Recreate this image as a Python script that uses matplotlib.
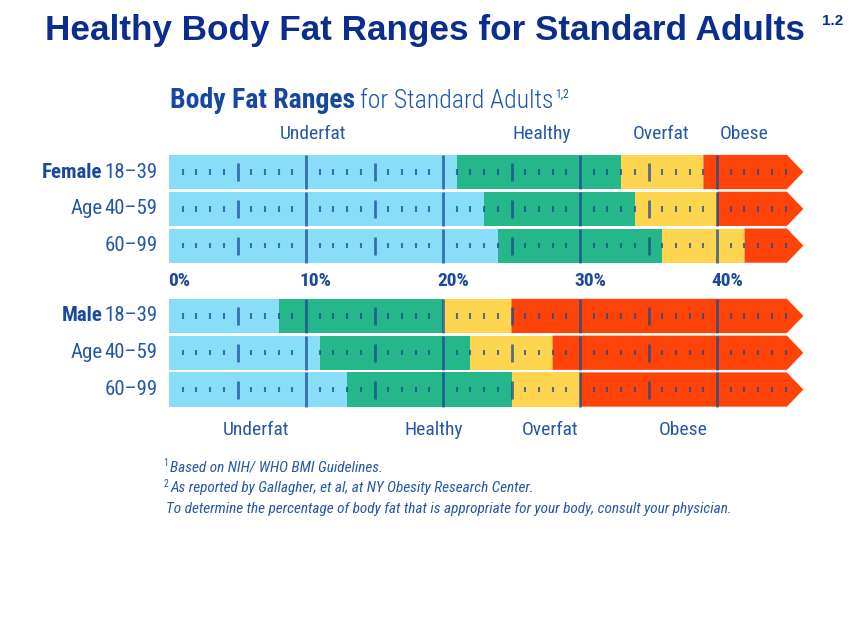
import matplotlib.pyplot as plt
from matplotlib import font_manager

groups = ["Female", "Male"]
ages = ["18–39", "40–59", "60–99"]
categories = ["Underfat", "Healthy", "Overfat", "Obese"]
# % body fat where Healthy, Overfat and Obese begin, one row per age band
female_bounds = [[21, 33, 39], [23, 34, 40], [24, 36, 42]]
male_bounds = [[8, 20, 25], [11, 22, 28], [13, 25, 30]]
scale_end = 45
pct_labels = [0, 10, 20, 30, 40]
footnotes = [
    ("1", "Based on NIH/ WHO BMI Guidelines."),
    ("2", "As reported by Gallagher, et al, at NY Obesity Research Center."),
    ("", "To determine the percentage of body fat that is appropriate for your body, consult your physician."),
]

seg_colors = ["#88ddf9", "#25b689", "#fed54f", "#fe4309"]
navy = "#0b2e8e"
blue = "#2458a8"
dark_blue = "#1b4a9c"

names = {f.name for f in font_manager.fontManager.ttflist}
narrow = "Liberation Sans"
for cand in ["Roboto Condensed", "Barlow Semi Condensed", "Asap Condensed"]:
    if cand in names:
        narrow = cand
        break

W, H = 865, 619
fig = plt.figure(figsize=(W / 100, H / 100), dpi=100)
fig.patch.set_facecolor("white")


def fx(x):
    return x / W


def fy(y):
    return 1 - y / H


# title
fig.text(fx(45), fy(40), "Healthy Body Fat Ranges for Standard Adults", family="Liberation Sans",
         weight="bold", size=25.3, color=navy, va="baseline")
fig.text(fx(822), fy(14), "1.2", family="Liberation Sans", weight="bold", size=11,
         color=navy, va="top")

# subtitle, pieces chained one after another
renderer = fig.canvas.get_renderer()
t1 = fig.text(fx(170), fy(108), "Body Fat Ranges", family=narrow, weight="bold", size=20,
              color="#1747a0", va="baseline")
x_end = t1.get_window_extent(renderer).x1
t2 = fig.text(x_end / W + fx(5), fy(108), "for Standard Adults", family=narrow, weight="light",
              size=18.5, color="#1d57b0", va="baseline")
x_end = t2.get_window_extent(renderer).x1
fig.text(x_end / W + fx(2), fy(88), "1,2", family=narrow, size=8.5, color="#1d57b0", va="top")

ax = fig.add_axes([fx(169), fy(412), (805 - 169) / W, (412 - 150) / H])
ax.set_xlim(0, 46.42)
ax.set_ylim(6.52, -0.598)
ax.axis("off")

row_y = [0, 1, 2, 3.91, 4.91, 5.91]
all_bounds = female_bounds + male_bounds
bh = 0.93
tip = 46.3

for y, b in zip(row_y, all_bounds):
    edges = [0] + b
    for i in range(3):
        ax.barh(y, edges[i + 1] - edges[i], left=edges[i], height=bh,
                color=seg_colors[i], linewidth=0)
    ax.fill([b[2], scale_end + 0.1, tip, scale_end + 0.1, b[2]],
            [y - bh / 2, y - bh / 2, y, y + bh / 2, y + bh / 2],
            color=seg_colors[3], linewidth=0)
    for t in range(1, scale_end + 1):
        if t % 10 == 0:
            half, lw = bh / 2, 2.0
        elif t % 5 == 0 and t < scale_end:
            half, lw = 0.245, 2.0
        else:
            half, lw = 0.075, 1.5
        ax.vlines(t, y - half, y + half, color="#1a4a94", alpha=0.75, linewidth=lw)

# percent scale between the panels
for p in pct_labels:
    ax.text(p + 0.72, 2.96, f"{p}%", family=narrow, weight="bold", size=14,
            color=dark_blue, ha="center", va="center")

# row labels
for gi, g in enumerate(groups):
    for k, a in enumerate(ages):
        y = row_y[gi * 3 + k]
        ax.text(-0.85, y, a, family=narrow, size=15, color=blue, ha="right", va="center")
    ax.text(-4.85, row_y[gi * 3], g, family=narrow, weight="bold", size=15,
            color=dark_blue, ha="right", va="center")
    ax.text(-4.85, row_y[gi * 3 + 1], "Age", family=narrow, size=15, color=blue,
            ha="right", va="center")

# category labels above female and below male rows
top_pos = [10.5, 27.2, 35.9, 42.0]
bottom_pos = [6.35, 19.3, 27.8, 37.5]
for c, xp in zip(categories, top_pos):
    fig.text(fx(169 + xp * 13.7), fy(134), c, family=narrow, size=14, color=blue,
             ha="center", va="center")
for c, xp in zip(categories, bottom_pos):
    fig.text(fx(169 + xp * 13.7), fy(430), c, family=narrow, size=14, color=blue,
             ha="center", va="center")

# footnotes
for i, (sup, line) in enumerate(footnotes):
    yy = 467 + i * 21
    if sup:
        fig.text(fx(163), fy(yy - 4), sup, family=narrow, size=7, color=blue, va="center")
        fig.text(fx(170), fy(yy), line, family=narrow, style="italic", size=11,
                 color=blue, va="center")
    else:
        fig.text(fx(166), fy(yy), line, family=narrow, style="italic", size=11,
                 color=blue, va="center")

fig.savefig("out.png", dpi=100, facecolor="white")
